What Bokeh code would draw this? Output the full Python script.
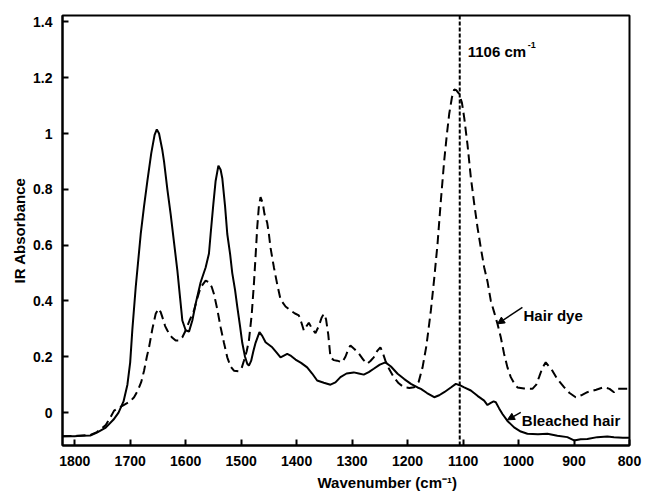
from bokeh.plotting import figure
from bokeh.models import Range1d, FixedTicker, Span, Label, Arrow, NormalHead, Title
from bokeh.embed import file_html
from bokeh.resources import INLINE

# --- FTIR spectra (wavenumber in cm-1, absorbance) ---
bleached_wn = [1822, 1800, 1790, 1772, 1760, 1744, 1730, 1721, 1712, 1705, 1700, 1696,
               1690, 1681, 1675, 1669, 1662, 1656, 1652, 1648, 1642, 1639, 1633, 1627,
               1621, 1615, 1610, 1606, 1600, 1594, 1588, 1582, 1573, 1564, 1558, 1555,
               1550, 1546, 1541, 1537, 1534, 1529, 1525, 1520, 1516, 1511, 1507, 1502,
               1498, 1493, 1489, 1486, 1482, 1478, 1474, 1467, 1462, 1456, 1450, 1444,
               1436, 1429, 1422, 1417, 1410, 1402, 1392, 1381, 1372, 1363, 1351, 1339,
               1330, 1321, 1310, 1297, 1288, 1279, 1270, 1261, 1250, 1240, 1230, 1218,
               1206, 1194, 1182, 1176, 1165, 1152, 1143, 1134, 1122, 1113, 1106, 1098,
               1086, 1074, 1062, 1056, 1050, 1045, 1041, 1035, 1029, 1020, 1008, 996,
               984, 965, 948, 930, 912, 900, 888, 876, 858, 840, 828, 812, 800]
bleached_abs = [-0.085, -0.085, -0.083, -0.082, -0.072, -0.054, -0.025, 0.0, 0.04, 0.10, 0.18, 0.30,
                0.45, 0.64, 0.74, 0.83, 0.93, 0.995, 1.015, 1.0, 0.94, 0.90, 0.80, 0.71,
                0.61, 0.51, 0.41, 0.33, 0.295, 0.29, 0.33, 0.39, 0.467, 0.52, 0.57, 0.64,
                0.75, 0.83, 0.885, 0.87, 0.84, 0.74, 0.64, 0.57, 0.50, 0.44, 0.38, 0.31,
                0.25, 0.20, 0.175, 0.168, 0.185, 0.22, 0.25, 0.288, 0.275, 0.252, 0.243, 0.234,
                0.215, 0.198, 0.205, 0.21, 0.203, 0.19, 0.178, 0.162, 0.14, 0.115, 0.107, 0.10,
                0.108, 0.127, 0.14, 0.144, 0.14, 0.136, 0.145, 0.157, 0.172, 0.18, 0.165, 0.139,
                0.12, 0.103, 0.09, 0.085, 0.07, 0.055, 0.062, 0.073, 0.09, 0.103, 0.098, 0.09,
                0.079, 0.06, 0.043, 0.027, 0.035, 0.04, 0.037, 0.015, -0.005, -0.03, -0.053, -0.068,
                -0.076, -0.078, -0.076, -0.083, -0.088, -0.1, -0.096, -0.095, -0.088, -0.086, -0.088, -0.09, -0.09]

dye_wn = [1822, 1790, 1772, 1760, 1750, 1744, 1735, 1729, 1720, 1711, 1700, 1693,
          1686, 1680, 1675, 1670, 1666, 1660, 1654, 1649, 1645, 1642, 1637, 1633,
          1625, 1618, 1612, 1606, 1600, 1593, 1585, 1579, 1573, 1564, 1558, 1553,
          1549, 1543, 1537, 1531, 1525, 1519, 1513, 1504, 1499, 1495, 1490, 1486,
          1481, 1477, 1474, 1471, 1468, 1465, 1461, 1458, 1453, 1450, 1447, 1441,
          1435, 1429, 1420, 1411, 1403, 1396, 1391, 1387, 1382, 1378, 1372, 1366,
          1360, 1355, 1351, 1347, 1343, 1339, 1333, 1327, 1318, 1312, 1306, 1303,
          1296, 1288, 1280, 1273, 1267, 1261, 1255, 1249, 1244, 1240, 1233, 1225,
          1216, 1207, 1197, 1188, 1180, 1173, 1166, 1158, 1152, 1146, 1140, 1134,
          1129, 1125, 1120, 1116, 1112, 1107, 1102, 1098, 1092, 1086, 1080, 1074,
          1068, 1062, 1056, 1050, 1044, 1038, 1032, 1026, 1020, 1014, 1008, 1002,
          990, 975, 968, 963, 957, 951, 945, 939, 930, 918, 908, 897,
          887, 876, 860, 846, 836, 828, 822, 810, 800]
dye_abs = [-0.085, -0.083, -0.08, -0.07, -0.055, -0.045, -0.015, 0.007, 0.018, 0.028, 0.04, 0.055,
           0.08, 0.11, 0.15, 0.2, 0.234, 0.3, 0.354, 0.372, 0.36, 0.342, 0.31, 0.294,
           0.27, 0.258, 0.258, 0.27, 0.294, 0.33, 0.366, 0.41, 0.449, 0.473, 0.467, 0.45,
           0.425, 0.37, 0.306, 0.25, 0.198, 0.165, 0.15, 0.148, 0.16, 0.186, 0.22, 0.258,
           0.35, 0.461, 0.56, 0.664, 0.74, 0.772, 0.75, 0.712, 0.68, 0.64, 0.59, 0.521,
           0.46, 0.405, 0.38, 0.366, 0.355, 0.348, 0.32, 0.294, 0.31, 0.322, 0.30, 0.285,
           0.31, 0.34, 0.354, 0.335, 0.28, 0.198, 0.188, 0.186, 0.18, 0.2, 0.232, 0.24,
           0.228, 0.212, 0.19, 0.175, 0.185, 0.198, 0.22, 0.234, 0.21, 0.186, 0.155, 0.127,
           0.105, 0.091, 0.088, 0.091, 0.11, 0.162, 0.24, 0.366, 0.48, 0.605, 0.76, 0.903,
           1.0, 1.07, 1.13, 1.158, 1.155, 1.142, 1.11, 1.058, 0.96, 0.843, 0.75, 0.664,
           0.59, 0.521, 0.47, 0.401, 0.36, 0.318, 0.27, 0.21, 0.162, 0.127, 0.105, 0.09,
           0.086, 0.085, 0.1, 0.127, 0.16, 0.18, 0.165, 0.15, 0.12, 0.091, 0.07, 0.055,
           0.062, 0.073, 0.082, 0.091, 0.085, 0.073, 0.085, 0.085, 0.085]

marker_wn = 1106

x_ticks = [1800, 1700, 1600, 1500, 1400, 1300, 1200, 1100, 1000, 900, 800]
y_ticks = [0, 0.2, 0.4, 0.6, 0.8, 1.0, 1.2, 1.4]
y_tick_labels = ["0", "0.2", "0.4", "0.6", "0.8", "1", "1.2", "1.4"]

FONT = "Liberation Sans"

p = figure(width=647, height=494, output_backend="svg", toolbar_location=None,
           x_range=Range1d(1822, 800), y_range=Range1d(-0.118, 1.423),
           min_border_left=62, min_border_right=18, min_border_top=15, min_border_bottom=49)
p.xgrid.visible = False
p.ygrid.visible = False
p.outline_line_color = "black"
p.outline_line_width = 2
p.background_fill_color = "white"
p.border_fill_color = "white"

for ax in (p.xaxis, p.yaxis):
    ax.axis_line_width = 2
    ax.axis_line_color = "black"
    ax.major_tick_in = 6
    ax.major_tick_out = 0
    ax.major_tick_line_width = 2
    ax.minor_tick_line_color = None
    ax.major_label_text_font = FONT
    ax.major_label_text_font_style = "bold"
    ax.major_label_text_font_size = "14px"
    ax.major_label_text_color = "black"
    ax.major_label_standoff = 10

p.xaxis.ticker = FixedTicker(ticks=x_ticks)
p.yaxis.ticker = FixedTicker(ticks=y_ticks)
p.yaxis.major_label_overrides = {t: s for t, s in zip(y_ticks, y_tick_labels)}

p.yaxis.axis_label = "IR Absorbance"
p.yaxis.axis_label_text_font = FONT
p.yaxis.axis_label_text_font_style = "bold"
p.yaxis.axis_label_text_font_size = "15px"
p.yaxis.axis_label_text_color = "black"
p.yaxis.axis_label_standoff = 2

# x axis title, set below the tick labels, right of centre
p.add_layout(Title(text="Wavenumber (cm\u207b\u00b9)", align="left", offset=255, standoff=6,
                   text_font=FONT, text_font_style="bold", text_font_size="15px",
                   text_color="black"), "below")

# spectra
p.line(bleached_wn, bleached_abs, line_color="black", line_width=2)
p.line(dye_wn, dye_abs, line_color="black", line_width=2, line_dash="9 5")

# marker line at the characteristic band
p.add_layout(Span(location=marker_wn, dimension="height", line_color="black",
                  line_width=2, line_dash="4 2"))


def bold_label(text, x, y, size="15px", x_offset=0, y_offset=0):
    return Label(x=x, y=y, text=text, x_offset=x_offset, y_offset=y_offset,
                 text_font=FONT, text_font_style="bold", text_font_size=size,
                 text_color="black", text_align="left", text_baseline="alphabetic")


# band annotation
p.add_layout(bold_label(f"{marker_wn} cm", marker_wn, 1.294, x_offset=8))
p.add_layout(bold_label("-1", marker_wn, 1.294, size="9px", x_offset=68, y_offset=6))

# series call-outs
head = dict(size=7, fill_color="black", line_color="black")
p.add_layout(bold_label("Hair dye", 991, 0.348))
p.add_layout(Arrow(end=NormalHead(**head), x_start=993, y_start=0.377,
                   x_end=1038, y_end=0.318, line_width=1.5, line_color="black"))
p.add_layout(bold_label("Bleached hair", 994, -0.027))
p.add_layout(Arrow(end=NormalHead(**head), x_start=996, y_start=0.001,
                   x_end=1020, y_end=-0.026, line_width=1.5, line_color="black"))

open("out.html", "w").write(file_html(p, INLINE))
